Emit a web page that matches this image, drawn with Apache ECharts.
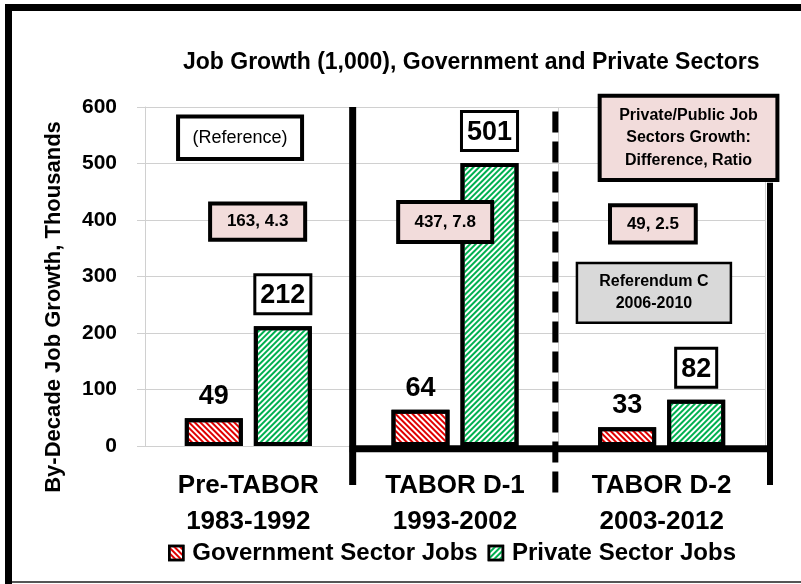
<!DOCTYPE html>
<html>
<head>
<meta charset="UTF-8">
<title>Job Growth</title>
<script src="https://cdn.jsdelivr.net/npm/echarts@6/dist/echarts.min.js"></script>
<style>
  html, body { margin: 0; padding: 0; background: #fff; }
  #main { width: 801px; height: 584px; }
</style>
</head>
<body>
<div id="main"></div>
<script>
// data
var periods = ['Pre-TABOR\n1983-1992', 'TABOR D-1\n1993-2002', 'TABOR D-2\n2003-2012'];
var govJobs = [49, 64, 33];
var privJobs = [212, 501, 82];
var diffRatio = ['163, 4.3', '437, 7.8', '49, 2.5'];
var yTicks = [0, 600, 100];

var FONT = '"Liberation Sans Narrow", "Liberation Sans", Arial, sans-serif';

var myChart = echarts.init(document.getElementById('main'), null, { renderer: 'canvas' });

var option = {
  backgroundColor: '#fff',
  animation: false,
  textStyle: { fontFamily: FONT },
  title: {
    text: 'Job Growth (1,000), Government and Private Sectors',
    left: 183,
    top: 51,
    padding: 0,
    textStyle: { fontFamily: FONT, fontSize: 23, fontWeight: 'bold', color: '#000' }
  },
  grid: { left: 145, right: 36, top: 107, bottom: 138 },
  legend: {
    bottom: 14,
    left: 163,
    icon: 'rect',
    itemWidth: 14,
    itemHeight: 14,
    itemGap: 10,
    textStyle: { fontFamily: FONT, fontSize: 24, fontWeight: 'bold', color: '#000', padding: [0, 0, 0, 4] },
    itemStyle: { borderWidth: 2.5, borderColor: '#000' }
  },
  xAxis: [{
    type: 'category',
    data: periods,
    axisLine: { show: false },
    axisTick: { show: false },
    splitLine: { show: true, interval: 0, lineStyle: { color: '#d0d0d0', width: 1 } },
    axisLabel: {
      interval: 0,
      margin: 22,
      fontFamily: FONT,
      fontSize: 26,
      fontWeight: 'bold',
      lineHeight: 36,
      color: '#000'
    }
  }, {
    // hidden helper axis so annotations can be placed by position across the three periods
    type: 'value', min: 0, max: 3, show: false
  }],
  yAxis: {
    type: 'value',
    min: yTicks[0],
    max: yTicks[1],
    interval: yTicks[2],
    axisLine: { show: true, lineStyle: { color: '#d0d0d0' } },
    axisTick: { show: true, length: 8, lineStyle: { color: '#d0d0d0' } },
    splitLine: { lineStyle: { color: '#d0d0d0' } },
    axisLabel: { margin: 28, fontFamily: FONT, fontSize: 21, fontWeight: 'bold', color: '#000' }
  },
  series: [{
    name: 'Government Sector Jobs',
    type: 'bar',
    data: govJobs,
    barWidth: 58,
    barGap: '19%',
    itemStyle: {
      color: '#fff',
      borderColor: '#000',
      borderWidth: 4,
      decal: { symbol: 'rect', color: '#e00000', dashArrayX: [1, 0], dashArrayY: [2, 2], rotation: Math.PI / 4 }
    },
    label: {
      show: true, position: 'top', distance: 8,
      fontFamily: FONT, fontSize: 27, fontWeight: 'bold', color: '#000'
    }
  }, {
    name: 'Private Sector Jobs',
    type: 'bar',
    data: privJobs,
    barWidth: 58,
    itemStyle: {
      color: '#fff',
      borderColor: '#000',
      borderWidth: 4,
      decal: { symbol: 'rect', color: '#00b050', dashArrayX: [1, 0], dashArrayY: [2, 2], rotation: -Math.PI / 4 }
    },
    label: {
      show: true, position: 'top', distance: 14,
      fontFamily: FONT, fontSize: 27, fontWeight: 'bold', color: '#000',
      backgroundColor: '#fff', borderColor: '#000', borderWidth: 3,
      padding: [6, 4, 3, 4]
    }
  }]
};

myChart.setOption(option);

// helpers: x in "period units" (0..3), y in thousands
function px(x) { return myChart.convertToPixel({ xAxisIndex: 1 }, x); }
function py(y) { return myChart.convertToPixel({ yAxisIndex: 0 }, y); }

function box(x0, y0, x1, y1, fill, bw, lines, fs, weight) {
  var X0 = px(x0), X1 = px(x1), Y0 = py(y0), Y1 = py(y1);
  var cx = (X0 + X1) / 2, cy = (Y0 + Y1) / 2;
  return [{
    type: 'rect', z: 10,
    shape: { x: X0, y: Y1, width: X1 - X0, height: Y0 - Y1 },
    style: { fill: fill, stroke: '#000', lineWidth: bw }
  }, {
    type: 'text', z: 11, x: cx, y: cy,
    style: {
      text: lines.join('\n'), fill: '#000', align: 'center', verticalAlign: 'middle',
      font: (weight || 'bold') + ' ' + fs + 'px ' + FONT, lineHeight: fs * 1.4
    }
  }];
}

var els = [];
// page frame
els.push({ type: 'rect', shape: { x: 5, y: 4, width: 7, height: 580 }, style: { fill: '#000' } });
els.push({ type: 'rect', shape: { x: 5, y: 4, width: 796, height: 7 }, style: { fill: '#000' } });
els.push({ type: 'rect', shape: { x: 12, y: 581, width: 789, height: 2 }, style: { fill: '#555' } });

// y axis name
els.push({
  type: 'text', x: 54, y: 307, rotation: Math.PI / 2,
  style: {
    text: 'By-Decade Job Growth, Thousands', fill: '#000', align: 'center', verticalAlign: 'middle',
    font: 'bold 22px ' + FONT
  }
});

// period separators and thick axis base under TABOR periods
var lineStyle = { stroke: '#000', lineWidth: 7 };
els.push({ type: 'line', z: 5, shape: { x1: px(1) + 1, y1: py(600), x2: px(1) + 1, y2: py(-69) }, style: lineStyle });
els.push({ type: 'line', z: 5, shape: { x1: px(2) - 3, y1: py(592), x2: px(2) - 3, y2: py(-87) },
  style: { stroke: '#000', lineWidth: 6, lineDash: [21, 9] } });
els.push({ type: 'line', z: 5, shape: { x1: px(3) + 5, y1: py(466), x2: px(3) + 5, y2: py(-69) },
  style: { stroke: '#000', lineWidth: 6 } });
els.push({ type: 'line', z: 5, shape: { x1: px(1) - 2, y1: py(-5), x2: px(3) + 5, y2: py(-5) }, style: lineStyle });

// annotation boxes
els = els.concat(box(0.16, 508, 0.76, 583, '#fff', 4, ['(Reference)'], 18, 'normal'));
els = els.concat(box(0.315, 365, 0.775, 429, '#f2dcdb', 4, [diffRatio[0]], 17));
els = els.concat(box(1.225, 361, 1.68, 432, '#f2dcdb', 4, [diffRatio[1]], 17));
els = els.concat(box(2.25, 360, 2.665, 426, '#f2dcdb', 4, [diffRatio[2]], 17));
els = els.concat(box(2.2, 471, 3.06, 620, '#f2dcdb', 4,
  ['Private/Public Job', 'Sectors Growth:', 'Difference, Ratio'], 16));
els = els.concat(box(2.09, 218, 2.835, 324, '#d9d9d9', 2.5, ['Referendum C', '2006-2010'], 16));

myChart.setOption({ graphic: { elements: els } });
</script>
</body>
</html>
